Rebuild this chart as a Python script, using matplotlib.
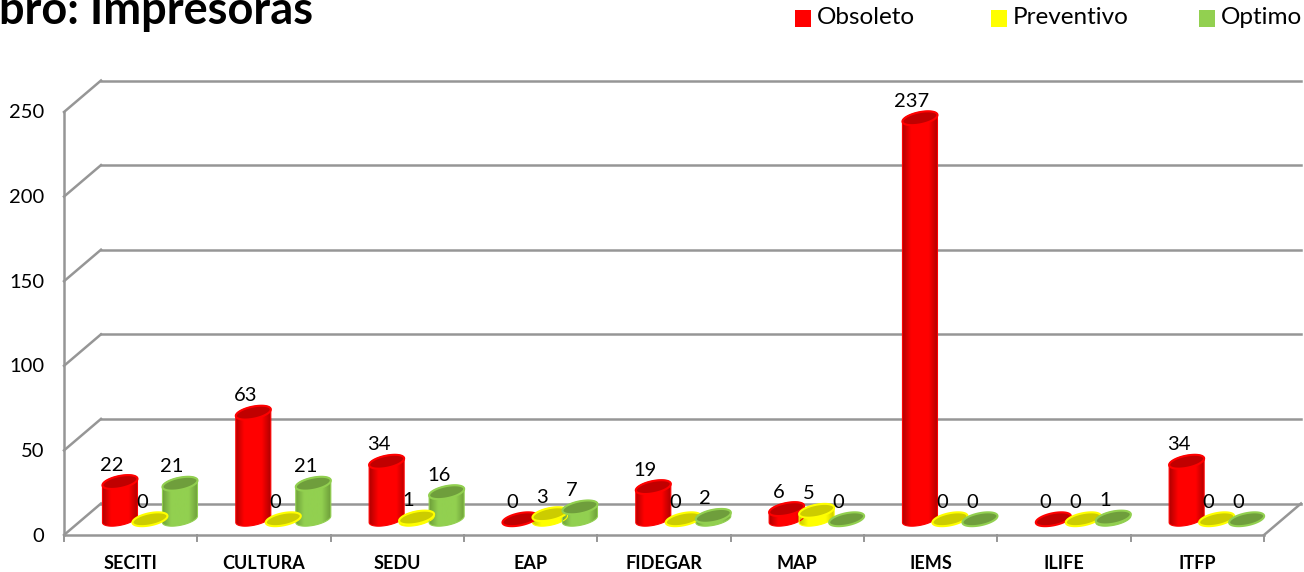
import numpy as np
import matplotlib
matplotlib.use("Agg")
import matplotlib.pyplot as plt
from matplotlib.colors import LinearSegmentedColormap
from matplotlib.patches import Polygon, Rectangle

categories = ["SECITI", "CULTURA", "SEDU", "EAP", "FIDEGAR", "MAP", "IEMS", "ILIFE", "ITFP"]
obsoleto = [22, 63, 34, 0, 19, 6, 237, 0, 34]
preventivo = [0, 0, 1, 3, 0, 5, 0, 0, 0]
optimo = [21, 21, 16, 7, 2, 0, 0, 1, 0]
y_ticks = [0, 50, 100, 150, 200, 250]

plt.rcParams['font.family'] = ['Lato', 'DejaVu Sans']

fig = plt.figure(figsize=(13.04, 5.72), dpi=100)
W, H = 1304.0, 572.0
# axes = the front plane of the fake 3d box
ax = fig.add_axes([64 / W, (H - 535) / H, 1200 / W, 423 / H])
ax.axis("off")

px_x = 9 / 1200.0
px_y = 250 / 423.0
depth_x = 37 * px_x
depth_y = 31.5 * px_y
grid_c = "#969696"

# walls
for v in y_ticks:
    ax.plot([depth_x, 9 + depth_x], [v + depth_y, v + depth_y], color=grid_c, lw=1.8, clip_on=False, zorder=1)
    ax.plot([0, depth_x], [v, v + depth_y], color=grid_c, lw=1.8, clip_on=False, zorder=1)
ax.plot([9, 9 + depth_x], [0, depth_y], color=grid_c, lw=1.8, clip_on=False, zorder=1)
ax.plot([0, 0], [0, 250], color=grid_c, lw=1.8, clip_on=False, zorder=1)
ax.plot([0, 9], [0, 0], color=grid_c, lw=1.8, clip_on=False, zorder=1)
for i in range(10):
    ax.plot([i, i], [0, -6 * px_y], color=grid_c, lw=1.4, clip_on=False, zorder=1)


def ring(cx, cy, t):
    r = 15.5 * px_x
    k = 0.22
    return np.column_stack([cx + r * np.cos(t) + k * depth_x * np.sin(t),
                            cy + k * depth_y * np.sin(t)])


def cylinder(cx, val, side, top, dark):
    base = depth_y / 2
    t0 = np.arctan2(0.22 * 37, 15.5)
    if val > 0:
        low = ring(cx, base, np.linspace(t0, t0 - np.pi, 40))
        up = ring(cx, base + val, np.linspace(t0 + np.pi, t0, 40))
        body = np.vstack([low, up])
        cm = LinearSegmentedColormap.from_list("c", [dark, side, side, side, dark])
        poly = Polygon(body, closed=True, fc="none", ec=side, lw=0.8, clip_on=False, zorder=3)
        ax.add_patch(poly)
        im = ax.imshow(np.linspace(0, 1, 64)[None, :], cmap=cm, aspect="auto", zorder=2.9,
                       extent=[cx - 18 * px_x, cx + 18 * px_x, 0, 260])
        im.set_clip_path(poly)
    circ = ring(cx, base + val, np.linspace(0, 2 * np.pi, 80))
    ax.add_patch(Polygon(circ, closed=True, fc=top, ec=side, lw=1.5, clip_on=False, zorder=3.1))


series = [(obsoleto, -30, "#FF0000", "#C00000", "#B00000"),
          (preventivo, 0, "#FFFF00", "#CCCC00", "#C8C800"),
          (optimo, 30, "#92D050", "#6F9E3C", "#6E9E3A")]

for i in range(len(categories)):
    for vals, off, side, top, dark in series:
        cx = i + 0.5 + depth_x / 2 + (off + 0.8) * px_x
        cylinder(cx, vals[i], side, top, dark)
        ax.text(cx - 8 * px_x, vals[i] + depth_y / 2 + 17 * px_y, str(vals[i]), ha="center", va="center",
                fontsize=14.5, color="black", zorder=5, clip_on=False)
    ax.text(i + 0.5, -28.5 * px_y, categories[i], ha="center", va="center", fontsize=13,
            fontweight="bold", color="black", clip_on=False)

for v in y_ticks:
    ax.text(-20 * px_x, v - 1 * px_y, str(v), ha="right", va="center", fontsize=14.5, color="black", clip_on=False)

ax.set_xlim(0, 9)
ax.set_ylim(0, 250)

# title runs off the top of the picture, same as the source
fig.text(-1 / W, (H - 24) / H, "bro: Impresoras", fontsize=32.5, fontweight="bold", ha="left", va="baseline")

# legend
for name, c, x in [("Obsoleto", "#FF0000", 795), ("Preventivo", "#FFFF00", 991), ("Optimo", "#92D050", 1199)]:
    fig.patches.append(Rectangle((x / W, (H - 26.5) / H), 16 / W, 17 / H, transform=fig.transFigure, fc=c, ec="none"))
    fig.text((x + 22) / W, (H - 17) / H, name, fontsize=17.5, ha="left", va="center")

fig.savefig("out.png", dpi=100)
